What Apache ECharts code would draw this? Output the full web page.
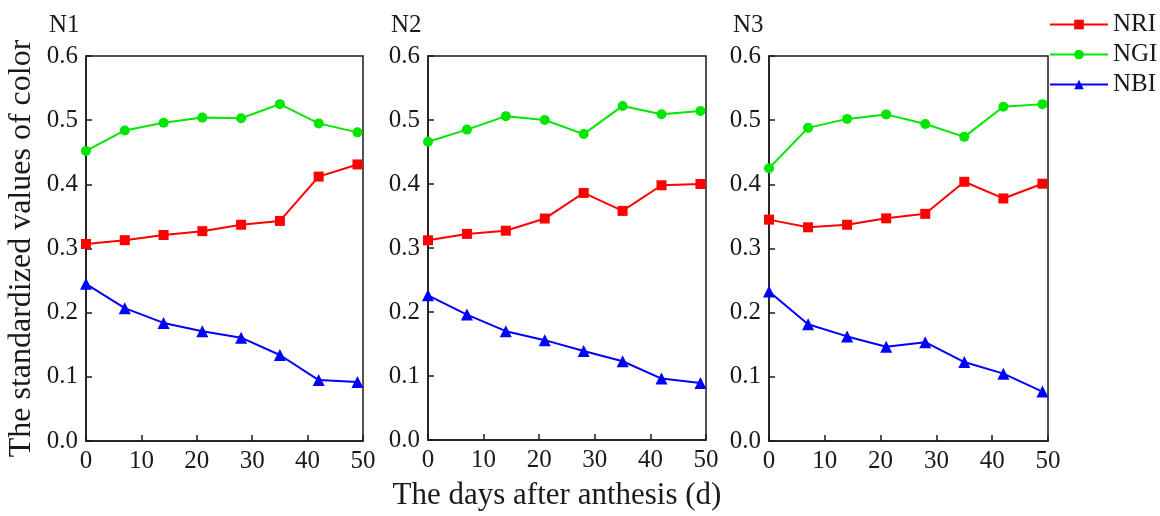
<!DOCTYPE html>
<html>
<head>
<meta charset="utf-8">
<script src="https://cdn.jsdelivr.net/npm/echarts@6/dist/echarts.min.js"></script>
<style>
  html, body { margin: 0; padding: 0; background: #fff; }
  #main { width: 1160px; height: 516px; }
</style>
</head>
<body>
<div id="main"></div>
<script>
// days after anthesis
var days = [0, 7, 14, 21, 28, 35, 42, 49];
var panels = ["N1", "N2", "N3"];
var seriesNames = ["NRI", "NGI", "NBI"];

var nriN1 = [0.307, 0.313, 0.321, 0.327, 0.337, 0.343, 0.412, 0.431];
var ngiN1 = [0.452, 0.484, 0.496, 0.504, 0.503, 0.525, 0.495, 0.481];
var nbiN1 = [0.245, 0.207, 0.184, 0.171, 0.161, 0.134, 0.095, 0.092];

var nriN2 = [0.312, 0.322, 0.327, 0.346, 0.386, 0.358, 0.398, 0.400];
var ngiN2 = [0.466, 0.485, 0.506, 0.500, 0.478, 0.522, 0.509, 0.514];
var nbiN2 = [0.226, 0.196, 0.170, 0.156, 0.139, 0.123, 0.096, 0.089];

var nriN3 = [0.345, 0.333, 0.337, 0.347, 0.354, 0.404, 0.378, 0.401];
var ngiN3 = [0.425, 0.488, 0.502, 0.509, 0.494, 0.474, 0.521, 0.525];
var nbiN3 = [0.233, 0.182, 0.163, 0.147, 0.154, 0.123, 0.105, 0.077];

var panelData = [
  [nriN1, ngiN1, nbiN1],
  [nriN2, ngiN2, nbiN2],
  [nriN3, ngiN3, nbiN3]
];

var colors = ["#ff0000", "#00e600", "#0000ff"];
var symbols = ["rect", "circle", "triangle"];
var font = "Liberation Serif, Times New Roman, serif";
var ink = "#1a1a1a";

var chart = echarts.init(document.getElementById("main"));

var grids = [
  { left: 86, top: 56, width: 277, height: 385 },
  { left: 428, top: 56, width: 278, height: 385 },
  { left: 769, top: 56, width: 279, height: 385 }
];
grids.forEach(function (g) {
  g.show = true;
  g.borderColor = ink;
  g.borderWidth = 1.5;
  g.backgroundColor = "transparent";
});

var xAxes = [], yAxes = [], series = [], titles = [];
var titleLeft = [44, 386, 728];

for (var i = 0; i < 3; i++) {
  xAxes.push({
    type: "value",
    gridIndex: i,
    min: 0,
    max: 50,
    interval: 10,
    axisLine: { lineStyle: { color: ink, width: 1.5 } },
    axisTick: { inside: true, length: 6, lineStyle: { color: ink, width: 1.5 } },
    axisLabel: { color: ink, fontSize: 25, fontFamily: font, margin: 8 },
    splitLine: { show: false },
    name: i === 1 ? "The days after anthesis (d)" : "",
    nameLocation: "middle",
    nameGap: 40,
    nameTextStyle: { color: ink, fontSize: 31, fontFamily: font, padding: [0, 20, 0, 0] }
  });
  yAxes.push({
    type: "value",
    gridIndex: i,
    min: 0,
    max: 0.6,
    interval: 0.1,
    axisLine: { lineStyle: { color: ink, width: 1.5 } },
    axisTick: { inside: true, length: 6, lineStyle: { color: ink, width: 1.5 } },
    axisLabel: {
      color: ink, fontSize: 25, fontFamily: font, margin: 8,
      formatter: function (v) { return v.toFixed(1); }
    },
    splitLine: { show: false },
    name: i === 0 ? "The standardized values of color" : "",
    nameLocation: "middle",
    nameGap: 48,
    nameTextStyle: { color: ink, fontSize: 32, fontFamily: font }
  });
  titles.push({
    text: panels[i],
    left: titleLeft[i],
    top: 8,
    textStyle: { color: ink, fontSize: 25, fontWeight: "normal", fontFamily: font }
  });
  for (var s = 0; s < 3; s++) {
    series.push({
      name: seriesNames[s],
      type: "line",
      xAxisIndex: i,
      yAxisIndex: i,
      data: days.map(function (d, k) { return [d, panelData[i][s][k]]; }),
      symbol: symbols[s],
      symbolSize: s === 2 ? 12 : 10,
      showAllSymbol: true,
      clip: false,
      color: colors[s],
      lineStyle: { color: colors[s], width: 2 },
      itemStyle: { color: colors[s] },
      animation: false
    });
  }
}

var option = {
  backgroundColor: "#fff",
  animation: false,
  title: titles,
  legend: {
    data: seriesNames,
    orient: "vertical",
    left: 1049,
    top: 12,
    padding: 0,
    itemWidth: 58,
    itemHeight: 12,
    itemGap: 5,
    textStyle: { color: ink, fontSize: 25, fontFamily: font }
  },
  grid: grids,
  xAxis: xAxes,
  yAxis: yAxes,
  series: series
};

chart.setOption(option);
</script>
</body>
</html>
